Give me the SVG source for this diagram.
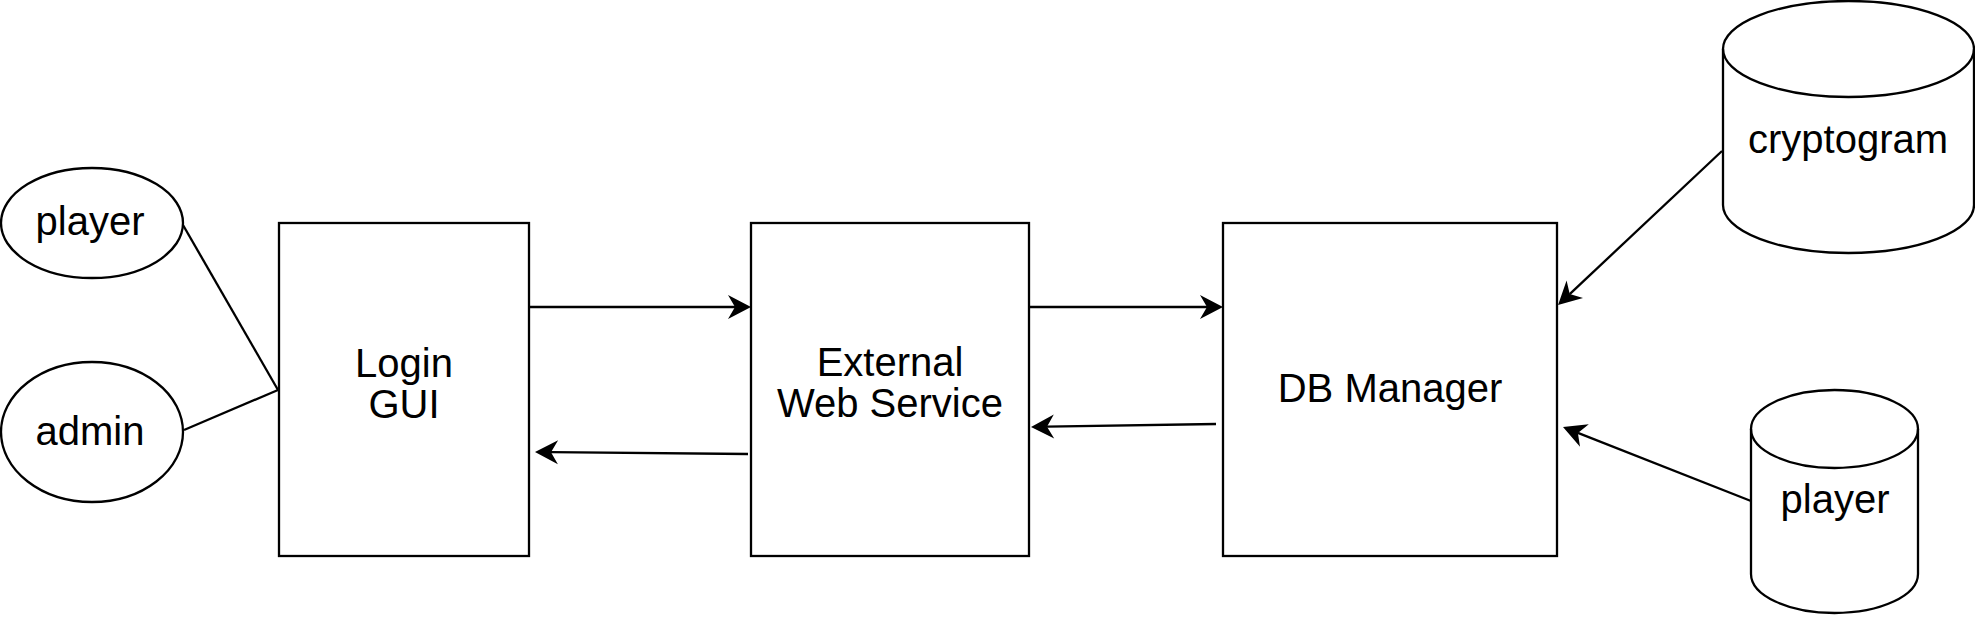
<svg xmlns="http://www.w3.org/2000/svg" width="1975" height="617" viewBox="0 0 1975 617">
<style>
.s{fill:#fff;stroke:#000;stroke-width:2.3}
.c{fill:none;stroke:#000;stroke-width:2.3}
.t{font-family:"Liberation Sans",Arial,Helvetica,sans-serif;font-size:40px;fill:#000;text-anchor:middle}
</style>
<defs>
<marker id="a" viewBox="-8 -13 26 26" refX="0" refY="0" markerWidth="26" markerHeight="26" markerUnits="userSpaceOnUse" orient="auto">
<path d="M16,0 L-7,-12 L0,0 L-7,12 Z" fill="#000" stroke="none"/>
</marker>
</defs>
<rect width="1975" height="617" fill="#fff"/>
<g id="player-actor">
<ellipse class="s" cx="92" cy="223" rx="91" ry="55"/>
<text class="t" x="90" y="235">player</text>
</g>
<g id="admin-actor">
<ellipse class="s" cx="92" cy="432" rx="91" ry="70"/>
<text class="t" x="90" y="445">admin</text>
</g>
<g id="login-gui">
<rect class="s" x="279" y="223" width="250" height="333"/>
<text class="t" x="404" y="377">Login</text>
<text class="t" x="404" y="418">GUI</text>
</g>
<g id="external-web-service">
<rect class="s" x="751" y="223" width="278" height="333"/>
<text class="t" x="890" y="376">External</text>
<text class="t" x="890" y="417">Web Service</text>
</g>
<g id="db-manager">
<rect class="s" x="1223" y="223" width="334" height="333"/>
<text class="t" x="1390" y="402">DB Manager</text>
</g>
<g id="cryptogram-db">
<path class="s" d="M1723,49 A125.5,48 0 0 1 1974,49 L1974,205 A125.5,48 0 0 1 1723,205 Z"/>
<path class="c" d="M1723,49 A125.5,48 0 0 0 1974,49"/>
<text class="t" x="1848" y="153">cryptogram</text>
</g>
<g id="player-db">
<path class="s" d="M1751,429 A83.5,39 0 0 1 1918,429 L1918,574 A83.5,39 0 0 1 1751,574 Z"/>
<path class="c" d="M1751,429 A83.5,39 0 0 0 1918,429"/>
<text class="t" x="1835" y="513">player</text>
</g>
<g id="connectors">
<line class="c" x1="183" y1="225" x2="278" y2="390"/>
<line class="c" x1="184" y1="430" x2="278" y2="390"/>
<line class="c" x1="529" y1="307" x2="735" y2="307" marker-end="url(#a)"/>
<line class="c" x1="748" y1="454" x2="551" y2="452.2" marker-end="url(#a)"/>
<line class="c" x1="1029" y1="307" x2="1207" y2="307" marker-end="url(#a)"/>
<line class="c" x1="1216" y1="424" x2="1047" y2="426.7" marker-end="url(#a)"/>
<line class="c" x1="1722" y1="151" x2="1569.7" y2="294.1" marker-end="url(#a)"/>
<line class="c" x1="1751" y1="501" x2="1577.9" y2="432.9" marker-end="url(#a)"/>
</g>
</svg>
